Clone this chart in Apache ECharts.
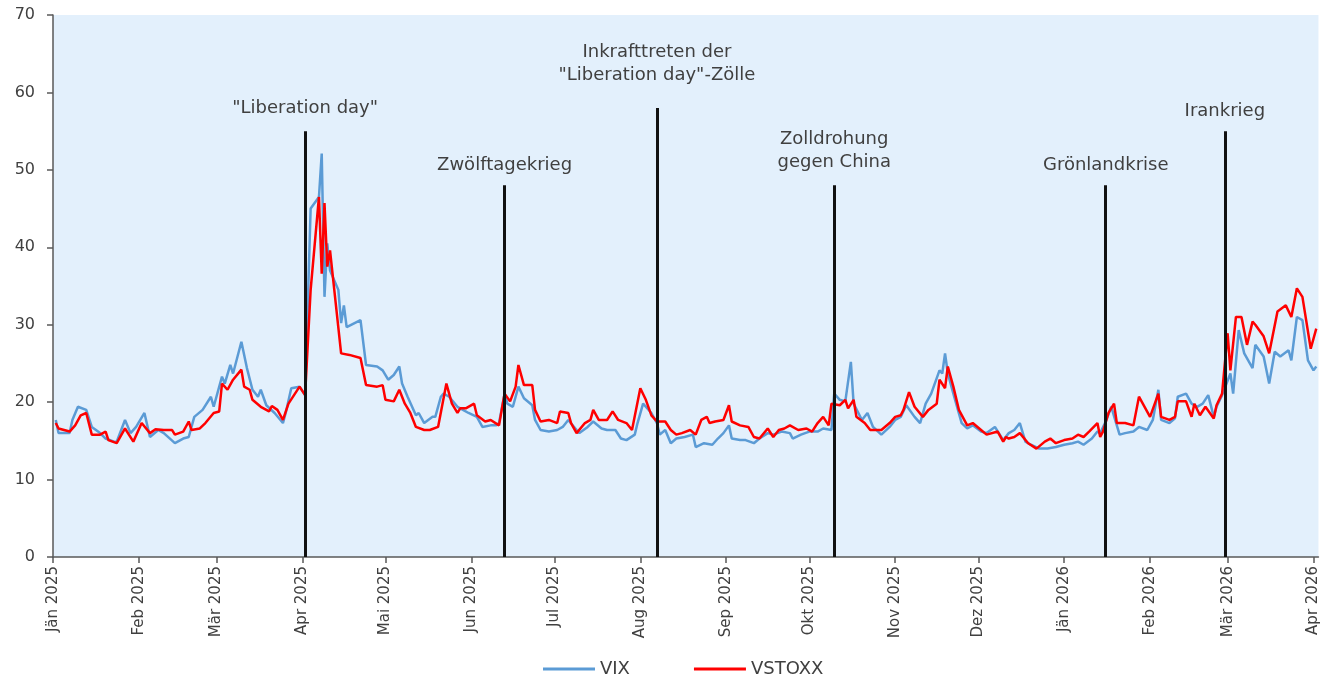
<!DOCTYPE html>
<html>
<head>
<meta charset="utf-8">
<script src="https://cdn.jsdelivr.net/npm/echarts@6/dist/echarts.min.js"></script>
<style>
html, body { margin: 0; padding: 0; background: #fff; }
#container { width: 1321px; height: 680px; }
</style>
</head>
<body>
<div id="container"></div>
<script>
var monthNames = ['Jän', 'Feb', 'Mär', 'Apr', 'Mai', 'Jun', 'Jul', 'Aug', 'Sep', 'Okt', 'Nov', 'Dez'];
var monthTicks = ['2025-01-01', '2025-02-01', '2025-03-01', '2025-04-01', '2025-05-01', '2025-06-01',
    '2025-07-01', '2025-08-01', '2025-09-01', '2025-10-01', '2025-11-01', '2025-12-01',
    '2026-01-01', '2026-02-01', '2026-03-01', '2026-04-01'];
var yTicks = [0, 10, 20, 30, 40, 50, 60, 70];

var vixDates = ['2025-01-02', '2025-01-03', '2025-01-07', '2025-01-08', '2025-01-10', '2025-01-13', '2025-01-15', '2025-01-18', '2025-01-20', '2025-01-23',
    '2025-01-24', '2025-01-27', '2025-01-29', '2025-01-31', '2025-02-03', '2025-02-05', '2025-02-08', '2025-02-10', '2025-02-14', '2025-02-17',
    '2025-02-19', '2025-02-21', '2025-02-24', '2025-02-27', '2025-02-28', '2025-03-03', '2025-03-04', '2025-03-06', '2025-03-07', '2025-03-10',
    '2025-03-12', '2025-03-14', '2025-03-16', '2025-03-17', '2025-03-19', '2025-03-22', '2025-03-25', '2025-03-26', '2025-03-28', '2025-03-31',
    '2025-04-02', '2025-04-04', '2025-04-07', '2025-04-08', '2025-04-09', '2025-04-10', '2025-04-11', '2025-04-14', '2025-04-15', '2025-04-16',
    '2025-04-17', '2025-04-22', '2025-04-24', '2025-04-28', '2025-04-30', '2025-05-02', '2025-05-04', '2025-05-06', '2025-05-07', '2025-05-09',
    '2025-05-12', '2025-05-13', '2025-05-15', '2025-05-18', '2025-05-19', '2025-05-21', '2025-05-22', '2025-05-24', '2025-05-27', '2025-05-29',
    '2025-05-31', '2025-06-03', '2025-06-05', '2025-06-08', '2025-06-10', '2025-06-11', '2025-06-13', '2025-06-14', '2025-06-16', '2025-06-18',
    '2025-06-20', '2025-06-23', '2025-06-24', '2025-06-26', '2025-06-29', '2025-07-02', '2025-07-04', '2025-07-06', '2025-07-09', '2025-07-10',
    '2025-07-13', '2025-07-15', '2025-07-18', '2025-07-20', '2025-07-23', '2025-07-25', '2025-07-27', '2025-07-30', '2025-07-31', '2025-08-02',
    '2025-08-05', '2025-08-07', '2025-08-08', '2025-08-10', '2025-08-12', '2025-08-14', '2025-08-17', '2025-08-20', '2025-08-21', '2025-08-24',
    '2025-08-27', '2025-08-29', '2025-08-31', '2025-09-02', '2025-09-03', '2025-09-06', '2025-09-08', '2025-09-11', '2025-09-13', '2025-09-16',
    '2025-09-18', '2025-09-21', '2025-09-24', '2025-09-25', '2025-09-28', '2025-10-01', '2025-10-04', '2025-10-06', '2025-10-09', '2025-10-10',
    '2025-10-12', '2025-10-14', '2025-10-16', '2025-10-17', '2025-10-20', '2025-10-22', '2025-10-24', '2025-10-27', '2025-10-30', '2025-11-01',
    '2025-11-03', '2025-11-05', '2025-11-08', '2025-11-10', '2025-11-12', '2025-11-14', '2025-11-17', '2025-11-18', '2025-11-19', '2025-11-20',
    '2025-11-22', '2025-11-25', '2025-11-27', '2025-11-29', '2025-12-02', '2025-12-04', '2025-12-07', '2025-12-10', '2025-12-12', '2025-12-14',
    '2025-12-16', '2025-12-18', '2025-12-20', '2025-12-23', '2025-12-26', '2025-12-29', '2026-01-01', '2026-01-04', '2026-01-06', '2026-01-08',
    '2026-01-11', '2026-01-13', '2026-01-14', '2026-01-16', '2026-01-18', '2026-01-21', '2026-01-23', '2026-01-26', '2026-01-28', '2026-01-31',
    '2026-02-02', '2026-02-04', '2026-02-05', '2026-02-08', '2026-02-10', '2026-02-11', '2026-02-14', '2026-02-16', '2026-02-18', '2026-02-20',
    '2026-02-22', '2026-02-24', '2026-02-25', '2026-02-27', '2026-03-02', '2026-03-03', '2026-03-05', '2026-03-07', '2026-03-10', '2026-03-11',
    '2026-03-14', '2026-03-16', '2026-03-18', '2026-03-20', '2026-03-23', '2026-03-24', '2026-03-26', '2026-03-28', '2026-03-30', '2026-04-01',
    '2026-04-02'];
var vixValues = [17.7, 16.0, 16.0, 17.7, 19.4, 19.0, 16.8, 16.0, 15.3, 14.9,
    14.9, 17.7, 16.0, 16.8, 18.6, 15.5, 16.4, 16.0, 14.7, 15.3,
    15.5, 18.1, 19.0, 20.7, 19.4, 23.3, 22.4, 24.8, 23.7, 27.8,
    24.4, 21.6, 20.7, 21.6, 19.6, 18.6, 17.3, 18.6, 21.8, 22.0,
    20.9, 45.0, 46.5, 52.1, 33.6, 40.5, 37.0, 34.5, 30.2, 32.5,
    29.7, 30.6, 24.8, 24.6, 24.1, 22.9, 23.5, 24.6, 22.4, 20.7,
    18.3, 18.6, 17.3, 18.1, 18.1, 20.7, 21.1, 20.7, 19.4, 19.0,
    18.6, 18.1, 16.8, 17.0, 17.0, 17.3, 21.1, 19.8, 19.4, 22.0,
    20.5, 19.6, 17.7, 16.4, 16.2, 16.4, 16.8, 17.7, 16.4, 16.0,
    16.8, 17.5, 16.6, 16.4, 16.4, 15.3, 15.1, 15.8, 17.3, 19.8,
    18.6, 17.3, 15.8, 16.4, 14.7, 15.3, 15.5, 15.8, 14.2, 14.7,
    14.5, 15.3, 16.0, 17.0, 15.3, 15.1, 15.1, 14.7, 15.3, 16.0,
    15.8, 16.2, 16.0, 15.3, 15.8, 16.2, 16.2, 16.6, 16.4, 21.1,
    20.3, 20.1, 25.2, 19.8, 17.7, 18.6, 16.8, 15.8, 16.8, 17.7,
    18.1, 19.6, 18.1, 17.3, 19.8, 21.1, 24.1, 23.7, 26.3, 23.7,
    21.1, 17.3, 16.6, 17.0, 16.2, 16.0, 16.8, 15.1, 16.0, 16.4,
    17.3, 14.9, 14.5, 14.0, 14.0, 14.2, 14.5, 14.7, 14.9, 14.5,
    15.3, 16.2, 16.0, 17.5, 19.4, 15.8, 16.0, 16.2, 16.8, 16.4,
    17.7, 21.6, 17.7, 17.3, 17.9, 20.7, 21.1, 19.8, 19.4, 19.8,
    20.9, 18.1, 19.4, 20.9, 23.7, 21.1, 29.3, 26.3, 24.4, 27.4,
    25.9, 22.4, 26.5, 25.9, 26.7, 25.4, 31.0, 30.6, 25.4, 24.1,
    24.6];

var vstoxxDates = ['2025-01-02', '2025-01-03', '2025-01-07', '2025-01-09', '2025-01-11', '2025-01-13', '2025-01-15', '2025-01-18', '2025-01-20', '2025-01-21',
    '2025-01-24', '2025-01-27', '2025-01-30', '2025-02-02', '2025-02-05', '2025-02-07', '2025-02-10', '2025-02-13', '2025-02-14', '2025-02-17',
    '2025-02-19', '2025-02-20', '2025-02-23', '2025-02-25', '2025-02-28', '2025-03-02', '2025-03-03', '2025-03-05', '2025-03-07', '2025-03-10',
    '2025-03-11', '2025-03-13', '2025-03-14', '2025-03-17', '2025-03-20', '2025-03-21', '2025-03-23', '2025-03-25', '2025-03-27', '2025-03-31',
    '2025-04-02', '2025-04-04', '2025-04-07', '2025-04-08', '2025-04-09', '2025-04-10', '2025-04-11', '2025-04-15', '2025-04-18', '2025-04-22',
    '2025-04-24', '2025-04-28', '2025-04-30', '2025-05-01', '2025-05-04', '2025-05-06', '2025-05-08', '2025-05-10', '2025-05-12', '2025-05-15',
    '2025-05-17', '2025-05-20', '2025-05-23', '2025-05-25', '2025-05-27', '2025-05-28', '2025-05-30', '2025-06-02', '2025-06-03', '2025-06-06',
    '2025-06-08', '2025-06-11', '2025-06-13', '2025-06-15', '2025-06-17', '2025-06-18', '2025-06-20', '2025-06-23', '2025-06-24', '2025-06-26',
    '2025-06-29', '2025-07-02', '2025-07-03', '2025-07-06', '2025-07-07', '2025-07-09', '2025-07-12', '2025-07-14', '2025-07-15', '2025-07-17',
    '2025-07-20', '2025-07-22', '2025-07-24', '2025-07-27', '2025-07-29', '2025-08-01', '2025-08-03', '2025-08-05', '2025-08-07', '2025-08-10',
    '2025-08-12', '2025-08-14', '2025-08-16', '2025-08-19', '2025-08-21', '2025-08-23', '2025-08-25', '2025-08-26', '2025-08-28', '2025-08-31',
    '2025-09-02', '2025-09-03', '2025-09-06', '2025-09-09', '2025-09-11', '2025-09-13', '2025-09-16', '2025-09-18', '2025-09-20', '2025-09-22',
    '2025-09-24', '2025-09-27', '2025-09-30', '2025-10-02', '2025-10-04', '2025-10-06', '2025-10-08', '2025-10-09', '2025-10-12', '2025-10-14',
    '2025-10-15', '2025-10-17', '2025-10-18', '2025-10-21', '2025-10-23', '2025-10-27', '2025-10-30', '2025-11-01', '2025-11-03', '2025-11-04',
    '2025-11-06', '2025-11-08', '2025-11-11', '2025-11-13', '2025-11-16', '2025-11-17', '2025-11-19', '2025-11-20', '2025-11-22', '2025-11-24',
    '2025-11-27', '2025-11-29', '2025-12-02', '2025-12-04', '2025-12-08', '2025-12-10', '2025-12-11', '2025-12-12', '2025-12-14', '2025-12-16',
    '2025-12-19', '2025-12-22', '2025-12-25', '2025-12-27', '2025-12-29', '2026-01-01', '2026-01-04', '2026-01-06', '2026-01-08', '2026-01-10',
    '2026-01-13', '2026-01-14', '2026-01-15', '2026-01-17', '2026-01-19', '2026-01-20', '2026-01-23', '2026-01-26', '2026-01-28', '2026-02-01',
    '2026-02-04', '2026-02-05', '2026-02-08', '2026-02-10', '2026-02-11', '2026-02-14', '2026-02-16', '2026-02-17', '2026-02-19', '2026-02-21',
    '2026-02-24', '2026-02-25', '2026-02-27', '2026-03-01', '2026-03-02', '2026-03-04', '2026-03-06', '2026-03-08', '2026-03-10', '2026-03-11',
    '2026-03-14', '2026-03-16', '2026-03-19', '2026-03-22', '2026-03-24', '2026-03-26', '2026-03-28', '2026-03-31', '2026-04-02'];
var vstoxxValues = [17.3, 16.6, 16.2, 17.0, 18.3, 18.6, 15.8, 15.8, 16.2, 15.1,
    14.7, 16.6, 14.9, 17.3, 16.0, 16.5, 16.4, 16.4, 15.8, 16.2,
    17.5, 16.4, 16.6, 17.3, 18.6, 18.8, 22.4, 21.6, 22.9, 24.2,
    22.0, 21.6, 20.3, 19.4, 18.8, 19.5, 19.0, 17.7, 19.8, 22.0,
    20.9, 34.5, 46.5, 36.6, 45.7, 37.5, 39.6, 26.3, 26.1, 25.7,
    22.2, 22.0, 22.2, 20.3, 20.1, 21.6, 19.8, 18.6, 16.8, 16.4,
    16.4, 16.8, 22.4, 19.8, 18.6, 19.2, 19.2, 19.8, 18.3, 17.5,
    17.7, 17.0, 21.1, 20.1, 22.0, 24.8, 22.2, 22.2, 19.0, 17.5,
    17.7, 17.3, 18.8, 18.6, 17.3, 16.0, 17.3, 17.7, 19.0, 17.7,
    17.7, 18.8, 17.7, 17.3, 16.4, 21.8, 20.3, 18.3, 17.5, 17.5,
    16.4, 15.8, 16.0, 16.4, 15.8, 17.7, 18.1, 17.3, 17.5, 17.7,
    19.6, 17.5, 17.0, 16.8, 15.5, 15.3, 16.6, 15.5, 16.4, 16.6,
    17.0, 16.4, 16.6, 16.2, 17.3, 18.1, 17.0, 19.8, 19.6, 20.3,
    19.2, 20.3, 18.1, 17.3, 16.4, 16.4, 17.3, 18.1, 18.3, 19.0,
    21.3, 19.4, 18.1, 19.0, 19.8, 22.9, 21.8, 24.6, 22.0, 19.0,
    17.0, 17.3, 16.4, 15.8, 16.2, 14.9, 15.5, 15.3, 15.5, 16.0,
    14.7, 14.0, 14.9, 15.3, 14.7, 15.1, 15.3, 15.8, 15.5, 16.2,
    17.3, 15.5, 16.2, 18.6, 19.8, 17.3, 17.3, 17.0, 20.7, 18.1,
    21.1, 18.1, 17.7, 18.1, 20.1, 20.1, 18.1, 19.8, 18.3, 19.4,
    17.9, 19.6, 21.1, 28.9, 24.1, 31.0, 31.0, 27.4, 30.4, 30.0,
    28.5, 26.3, 31.7, 32.5, 31.0, 34.7, 33.6, 26.9, 29.5];

var eventDates = ['2025-04-02', '2025-06-13', '2025-08-07', '2025-10-10', '2026-01-16', '2026-02-28'];
var eventTops = [55, 48, 58, 48, 48, 55];
var eventLabels = ['"Liberation day"', 'Zwölftagekrieg', 'Inkrafttreten der\n"Liberation day"-Zölle',
    'Zolldrohung\ngegen China', 'Grönlandkrise', 'Irankrieg'];
var eventGaps = [11, 9, 21, 12, 9, 8];

var ts = function (s) {
    var p = s.split('-');
    return new Date(+p[0], +p[1] - 1, +p[2]).getTime();
};

var pairs = function (dates, values) {
    var out = [];
    for (var i = 0; i < dates.length; i++) {
        out.push([ts(dates[i]), values[i]]);
    }
    return out;
};

var eventLines = [];
for (var i = 0; i < eventDates.length; i++) {
    eventLines.push([
        { coord: [ts(eventDates[i]), 0], label: { formatter: eventLabels[i], distance: eventGaps[i] } },
        { coord: [ts(eventDates[i]), eventTops[i]] }
    ]);
}

var font = 'DejaVu Sans';
var textColor = '#404040';

var dom = document.getElementById('container');
var myChart = echarts.init(dom);

var option = {
    animation: false,
    textStyle: { fontFamily: font },
    grid: {
        left: 53,
        right: 0,
        top: 15,
        bottom: 123,
        show: true,
        backgroundColor: '#E3F0FC',
        borderWidth: 0
    },
    legend: {
        left: 538,
        top: 655,
        itemWidth: 52,
        itemHeight: 3,
        itemGap: 64,
        icon: 'rect',
        textStyle: { color: textColor, fontSize: 18, fontFamily: font },
        data: ['VIX', 'VSTOXX']
    },
    xAxis: {
        type: 'value',
        min: ts('2025-01-01'),
        max: ts('2026-04-02') + 19 * 3600 * 1000,
        splitLine: { show: false },
        axisLine: { lineStyle: { color: '#595959', width: 1.5 } },
        axisTick: {
            customValues: monthTicks.map(ts),
            length: 6,
            lineStyle: { color: '#595959', width: 1.5 }
        },
        axisLabel: {
            customValues: monthTicks.map(ts),
            rotate: 90,
            margin: 9,
            color: textColor,
            fontSize: 15,
            formatter: function (v) {
                var d = new Date(v);
                return monthNames[d.getMonth()] + ' ' + d.getFullYear();
            }
        }
    },
    yAxis: {
        type: 'value',
        min: 0,
        max: 70,
        interval: 10,
        splitLine: { show: false },
        axisLine: { show: true, lineStyle: { color: '#595959', width: 1.5 } },
        axisTick: { show: true, length: 6, lineStyle: { color: '#595959', width: 1.5 } },
        axisLabel: {
            color: textColor,
            fontSize: 16,
            margin: 18,
            formatter: function (v) {
                return yTicks.indexOf(v) >= 0 ? String(v) : '';
            }
        }
    },
    series: [
        {
            name: 'VIX',
            type: 'line',
            showSymbol: false,
            color: '#5B9BD5',
            lineStyle: { width: 2.5 },
            data: pairs(vixDates, vixValues)
        },
        {
            name: 'VSTOXX',
            type: 'line',
            showSymbol: false,
            color: '#FF0000',
            lineStyle: { width: 2.5 },
            data: pairs(vstoxxDates, vstoxxValues),
            markLine: {
                silent: true,
                symbol: ['none', 'none'],
                lineStyle: { color: '#111', width: 3, type: 'solid' },
                label: {
                    show: true,
                    position: 'end',
                    color: textColor,
                    fontSize: 18,
                    lineHeight: 23,
                    align: 'center',
                    fontFamily: font
                },
                emphasis: { disabled: true },
                data: eventLines
            }
        }
    ]
};

myChart.setOption(option);
</script>
</body>
</html>
